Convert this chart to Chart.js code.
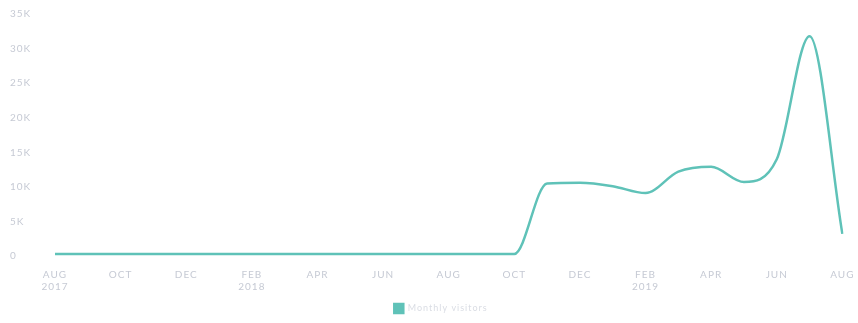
<!DOCTYPE html>
<html>
<head>
<meta charset="utf-8">
<script src="https://cdn.jsdelivr.net/npm/chart.js@4"></script>
<style>
  html, body { margin: 0; padding: 0; background: #fff; }
  #wrap { width: 858px; height: 323px; }
</style>
</head>
<body>
<div id="wrap"><canvas id="myChart"></canvas></div>
<script>
// Monthly points, Aug 2017 - Aug 2019
const months = ['AUG', 'SEP', 'OCT', 'NOV', 'DEC', 'JAN', 'FEB', 'MAR', 'APR', 'MAY', 'JUN', 'JUL',
                'AUG', 'SEP', 'OCT', 'NOV', 'DEC', 'JAN', 'FEB', 'MAR', 'APR', 'MAY', 'JUN', 'JUL', 'AUG'];
const years = ['2017', '', '', '', '', '', '2018', '', '', '', '', '',
               '', '', '', '', '', '', '2019', '', '', '', '', '', ''];
const usage = [300, 300, 300, 300, 300, 300, 300, 300, 300, 300, 300, 300,
               300, 300, 300, 10500, 10600, 10100, 9100, 12200, 12900, 10700, 14000, 31800, 3200];
const yTicks = [0, 5000, 10000, 15000, 20000, 25000, 30000, 35000];

const tickColor = '#c6cad4';
const lineColor = '#5fc2b8';

// small letter spacing on all canvas text, like the original
const spacing = {
    id: 'spacing',
    beforeInit(chart) { chart.ctx.letterSpacing = '1px'; },
    beforeDraw(chart) { chart.ctx.letterSpacing = '1px'; }
};

const ctx = document.getElementById('myChart').getContext('2d');
const myChart = new Chart(ctx, {
    type: 'line',
    data: {
        labels: months,
        datasets: [{
            label: 'Monthly visitors',
            data: usage,
            borderColor: lineColor,
            backgroundColor: lineColor,
            borderWidth: 2.5,
            pointRadius: 0,
            fill: false,
            cubicInterpolationMode: 'monotone'
        }]
    },
    plugins: [spacing],
    options: {
        responsive: true,
        maintainAspectRatio: false,
        animation: false,
        layout: { padding: { top: 14, right: 2, left: 10, bottom: 0 } },
        plugins: {
            legend: {
                position: 'bottom',
                labels: {
                    boxWidth: 9,
                    boxHeight: 9,
                    color: '#dadde4',
                    font: { family: 'Lato', size: 9 },
                    padding: 6
                }
            },
            tooltip: { enabled: false }
        },
        scales: {
            x: {
                grid: { display: false },
                border: { display: false },
                ticks: {
                    autoSkip: false,
                    maxRotation: 0,
                    color: tickColor,
                    font: { family: 'Lato', size: 10 },
                    padding: 5,
                    callback: function (value, index) {
                        if (index % 2 !== 0) return null;
                        return years[index] ? [months[index], years[index]] : months[index];
                    }
                }
            },
            y: {
                min: 0,
                max: 35000,
                grid: { display: false },
                border: { display: false },
                afterBuildTicks: function (scale) {
                    scale.ticks = yTicks.map(v => ({ value: v }));
                },
                afterFit: function (scale) { scale.width = 45; },
                ticks: {
                    color: tickColor,
                    crossAlign: 'far',
                    font: { family: 'Lato', size: 10 },
                    callback: function (value) {
                        return value === 0 ? '0' : (value / 1000) + 'K';
                    }
                }
            }
        }
    }
});
</script>
</body>
</html>
